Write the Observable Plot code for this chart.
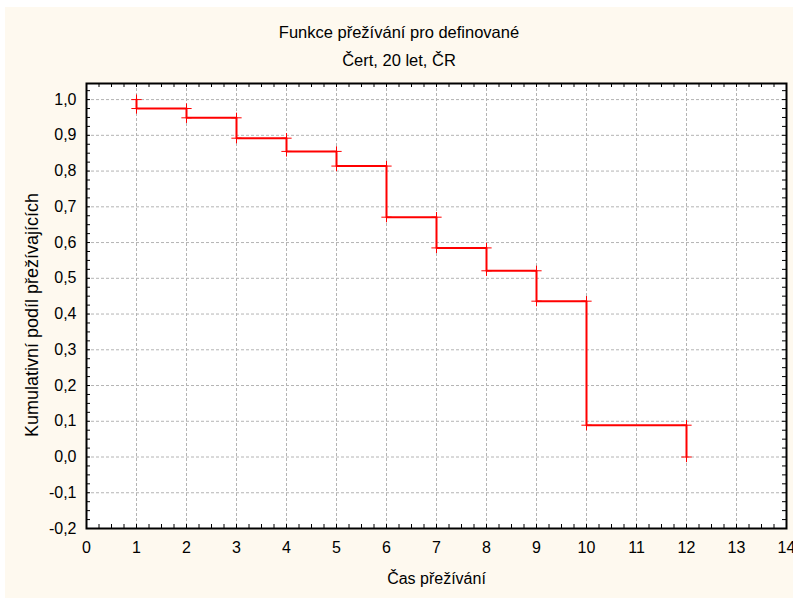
<!DOCTYPE html>
<html><head><meta charset="utf-8">
<script src="https://cdn.jsdelivr.net/npm/d3@7"></script>
<script src="https://cdn.jsdelivr.net/npm/@observablehq/plot@0.6"></script>
<style>
body{margin:0;background:#fff;}
#wrap{position:relative;width:793px;height:598px;overflow:hidden;background:#fff;font-family:"Liberation Sans",Arial,sans-serif;}
#panel{position:absolute;left:5px;top:7px;right:0;bottom:0;background:#fef9ef;}
.t{position:absolute;left:5px;width:788px;text-align:center;font-size:16.5px;color:#000;line-height:20px;}
#ylab{position:absolute;left:32px;top:315px;transform:translate(-50%,-50%) rotate(-90deg);white-space:nowrap;font-size:18px;line-height:20px;color:#000;}
#chart{position:absolute;left:0;top:0;}
</style></head><body>
<div id="wrap"><div id="panel"></div>
<div class="t" style="top:22px">Funkce přežívání pro definované</div>
<div class="t" style="top:50px">Čert, 20 let, ČR</div>
<div id="chart"></div>
<div id="ylab">Kumulativní podíl přežívajících</div></div>
<script>
// Survival times (event times)
const times  = [1, 2, 3, 4, 5, 6, 7, 8, 9, 10, 12];
// Cumulative proportion surviving just before and just after each time
const before = [1.000, 0.975, 0.949, 0.892, 0.855, 0.814, 0.671, 0.585, 0.521, 0.436, 0.089];
const after  = [0.975, 0.949, 0.892, 0.855, 0.814, 0.671, 0.585, 0.521, 0.436, 0.089, 0.000];
// Axis ticks
const xTicks = [0, 1, 2, 3, 4, 5, 6, 7, 8, 9, 10, 11, 12, 13, 14];
const yTicks = [-0.2, -0.1, 0.0, 0.1, 0.2, 0.3, 0.4, 0.5, 0.6, 0.7, 0.8, 0.9, 1.0];

const xMinor = d3.range(0, 14.001, 0.25);
const yMinor = d3.range(-0.2, 1.0451, 0.025);

const lineData = [{t: times[0], s: before[0]}, ...times.map((t, i) => ({t, s: after[i]}))];
const marks = [
  ...times.map((t, i) => ({t, s: before[i]})),
  ...times.map((t, i) => ({t, s: after[i]}))
];

const W = 793, H = 598, mL = 86, mR = 7, mT = 83, mB = 70;
const fw = W - mL - mR, fh = H - mT - mB;
const yFmt = d => d.toFixed(1).replace(".", ",");

const plot = Plot.plot({
  width: W, height: H,
  marginLeft: mL, marginRight: mR, marginTop: mT, marginBottom: mB,
  style: {fontFamily: '"Liberation Sans", Arial, sans-serif', fontSize: "16px", background: "transparent", color: "#000", overflow: "visible"},
  x: {domain: [0, 14]},
  y: {domain: [-0.2, 1.045]},
  marks: [
    Plot.frame({fill: "white", stroke: null}),
    Plot.gridX(xTicks.slice(1, -1), {stroke: "#b4b4b4", strokeOpacity: 1, strokeDasharray: "3,2"}),
    Plot.gridY(yTicks.slice(1), {stroke: "#b4b4b4", strokeOpacity: 1, strokeDasharray: "3,2"}),
    // inward minor ticks on all four sides
    Plot.tickX(xMinor, {x: d => d, insetTop: fh - 4, stroke: "black"}),
    Plot.tickX(xMinor, {x: d => d, insetBottom: fh - 4, stroke: "black"}),
    Plot.tickY(yMinor, {y: d => d, insetLeft: fw - 4, stroke: "black"}),
    Plot.tickY(yMinor, {y: d => d, insetRight: fw - 4, stroke: "black"}),
    Plot.axisX(xTicks, {tickSize: 0, tickPadding: 13, tickFormat: d => String(d), fontSize: 16,
      label: "Čas přežívání", labelAnchor: "center", labelOffset: 55, labelArrow: "none"}),
    Plot.axisY(yTicks, {tickSize: 0, tickPadding: 10, tickFormat: yFmt, fontSize: 16, label: null}),
    Plot.line(lineData, {x: "t", y: "s", curve: "step-after", stroke: "#ff0000", strokeWidth: 2}),
    Plot.dot(marks, {x: "t", y: "s", symbol: "plus", r: 3.4, stroke: "#ff0000", strokeWidth: 1}),
    Plot.frame({stroke: "black", strokeWidth: 2})
  ]
});
document.getElementById("chart").appendChild(plot);
</script>
</body></html>
